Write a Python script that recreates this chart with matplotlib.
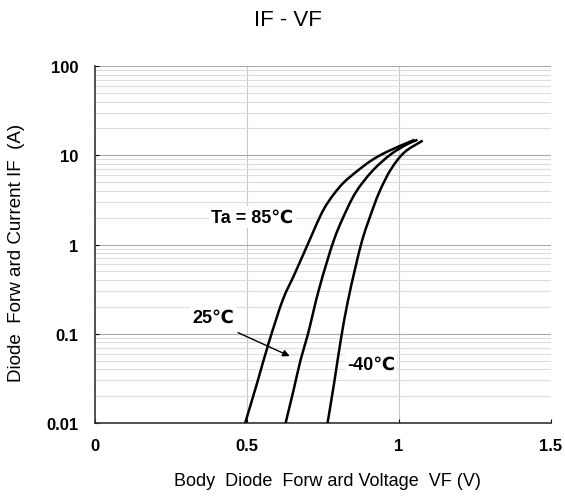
import matplotlib
matplotlib.use("Agg")
import numpy as np
import matplotlib.pyplot as plt
from matplotlib.path import Path
from matplotlib.patches import PathPatch
from matplotlib.ticker import LogLocator, NullFormatter

plt.rcParams['font.family'] = ['Liberation Sans', 'DejaVu Sans']

# values
vf_85 = [0.494, 0.534, 0.572, 0.621, 0.654, 0.693, 0.753, 0.786, 0.819, 0.864, 0.908, 0.957, 1.051]
if_85 = [0.01, 0.0286, 0.0802, 0.256, 0.447, 0.89, 2.50, 3.68, 4.98, 6.71, 8.69, 10.8, 14.9]

vf_25 = [0.627, 0.654, 0.677, 0.699, 0.737, 0.787, 0.814, 0.858, 0.913, 0.974, 1.029, 1.061]
if_25 = [0.01, 0.024, 0.052, 0.095, 0.317, 1.15, 1.93, 3.85, 6.7, 10.3, 13.4, 14.9]

vf_m40 = [0.765, 0.787, 0.809, 0.831, 0.858, 0.880, 0.902, 0.935, 0.974, 1.018, 1.078]
if_m40 = [0.01, 0.0286, 0.0873, 0.225, 0.579, 1.15, 1.93, 3.85, 7.0, 10.8, 14.6]

x_ticks = [0, 0.5, 1, 1.5]
x_labels = ['0', '0.5', '1', '1.5']
y_ticks = [0.01, 0.1, 1, 10, 100]
y_labels = ['0.01', '0.1', '1', '10', '100']

SX = 3.4  # px per volt / px per decade, so the spline is built in screen-like units


def smooth_path(vs, cs):
    # centripetal Catmull-Rom through the read points, drawn as cubic beziers
    p = np.column_stack([np.array(vs) * SX, np.log10(cs)])
    p = np.vstack([2 * p[0] - p[1], p, 2 * p[-1] - p[-2]])
    d = np.sqrt(np.linalg.norm(np.diff(p, axis=0), axis=1))
    verts = [p[1]]
    codes = [Path.MOVETO]
    for k in range(1, len(p) - 2):
        p0, p1, p2, p3 = p[k - 1], p[k], p[k + 1], p[k + 2]
        d0, d1, d2 = d[k - 1], d[k], d[k + 1]
        m1 = (p1 - p0) / d0 - (p2 - p0) / (d0 + d1) + (p2 - p1) / d1
        m2 = (p2 - p1) / d1 - (p3 - p1) / (d1 + d2) + (p3 - p2) / d2
        verts += [p1 + m1 * d1 / 3, p2 - m2 * d1 / 3, p2]
        codes += [Path.CURVE4] * 3
    verts = np.array(verts)
    verts[:, 0] /= SX
    verts[:, 1] = 10 ** verts[:, 1]
    return Path(verts, codes)


fig = plt.figure(figsize=(5.65, 5.02), dpi=100)
ax = fig.add_axes([95 / 565, 78 / 502, 456 / 565, 357 / 502])
ax.set_yscale('log')
ax.set_xlim(0, 1.5)
ax.set_ylim(0.01, 100)

ax.yaxis.set_minor_locator(LogLocator(base=10, subs=range(2, 10)))
ax.yaxis.set_minor_formatter(NullFormatter())
ax.set_yticks(y_ticks)
ax.set_yticklabels(y_labels, fontsize=12, fontweight='bold')
ax.set_xticks(x_ticks)
ax.set_xticklabels(x_labels, fontsize=12, fontweight='bold')

ax.grid(True, which='major', axis='y', color='#a8a8a8', lw=0.8)
ax.grid(True, which='minor', axis='y', color='#dcdcdc', lw=0.8)
for xv in x_ticks[1:3]:
    ax.axvline(xv, color='#c8c8c8', lw=0.8, zorder=0)
ax.set_axisbelow(True)

for s in ['top', 'right']:
    ax.spines[s].set_visible(False)
ax.spines['left'].set_color('#333333')
ax.spines['bottom'].set_color('#333333')
ax.spines['left'].set_linewidth(1.2)
ax.spines['bottom'].set_linewidth(1.2)
ax.tick_params(which='major', direction='in', length=3)
ax.tick_params(which='minor', length=0)
ax.tick_params(axis='x', pad=11)
ax.tick_params(axis='y', pad=12)

for v, i in [(vf_85, if_85), (vf_25, if_25), (vf_m40, if_m40)]:
    ax.add_patch(PathPatch(smooth_path(v, i), facecolor='none', edgecolor='black', lw=1.8, zorder=3))

box = dict(facecolor='white', edgecolor='none', pad=1.5)
ax.text(0.518, 2.03, 'Ta = 85\u2103', fontsize=13, fontweight='bold', ha='center', va='center', bbox=box, zorder=4)
ax.text(0.389, 0.154, '25\u2103', fontsize=13, fontweight='bold', ha='center', va='center', bbox=box, zorder=4)
ax.text(0.908, 0.0458, '-40\u2103', fontsize=13, fontweight='bold', ha='center', va='center', bbox=box, zorder=4)
ax.annotate('', xy=(0.649, 0.0545), xytext=(0.462, 0.106),
            arrowprops=dict(arrowstyle='-|>', color='black', lw=1, mutation_scale=10), zorder=4)

fig.text(327 / 565, 1 - 482 / 502, 'Body  Diode  Forw ard Voltage  VF (V)', fontsize=13, ha='center', va='center')
fig.text(17 / 565, 1 - 253 / 502, 'Diode  Forw ard Current IF  (A)', fontsize=13.5, rotation=90, ha='center', va='center')
fig.text(288 / 565, 1 - 20 / 502, 'IF - VF', fontsize=16, ha='center', va='center')

fig.savefig('out.png', dpi=100)
